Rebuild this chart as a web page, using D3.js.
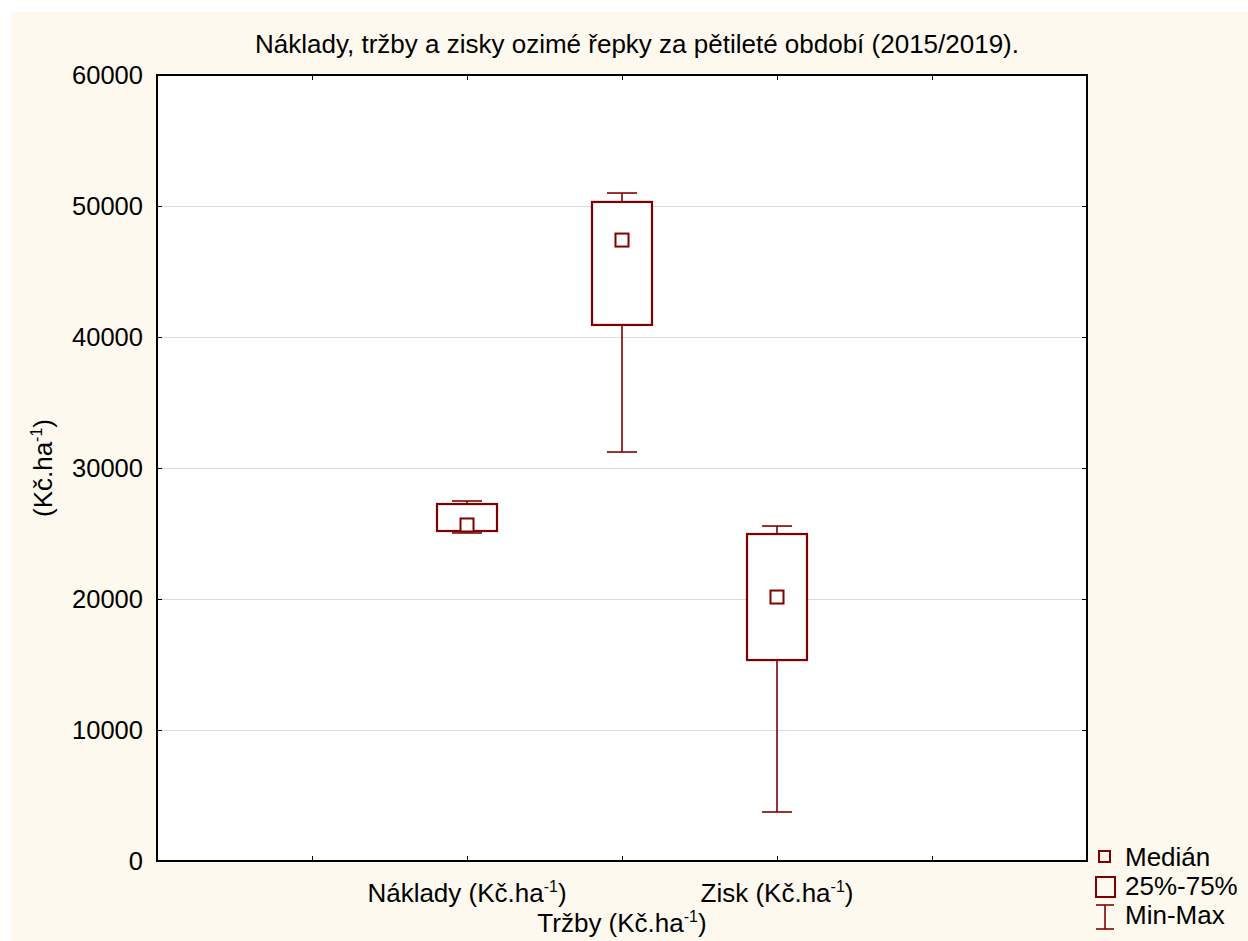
<!DOCTYPE html>
<html>
<head>
<meta charset="utf-8">
<script src="https://cdn.jsdelivr.net/npm/d3@7"></script>
<style>
  body { margin: 0; background: #ffffff; }
  svg { display: block; font-family: "Liberation Sans", Arial, sans-serif; }
</style>
</head>
<body>
<div id="chart"></div>
<script>
// data
const categories = ['Náklady', 'Tržby', 'Zisk'];
const minValues = [25040, 31220, 3740];
const q1Values = [25190, 40920, 15340];
const medianValues = [25650, 47400, 20150];
const q3Values = [27250, 50310, 24960];
const maxValues = [27480, 50990, 25570];
const yTicks = [0, 10000, 20000, 30000, 40000, 50000, 60000];

const config = {
  width: 1248,
  height: 941,
  margin: {top: 75, left: 157, right: 161, bottom: 80},
  color: '#800000',
  grid: '#dcdcdc',
  bg: '#fef9ee',
  title: 'Náklady, tržby a zisky ozimé řepky za pětileté období (2015/2019).'
};

const W = config.width, H = config.height, m = config.margin;
const x0 = m.left, x1 = W - m.right, y0 = m.top, y1 = H - m.bottom;

const svg = d3.select('#chart').append('svg')
  .attr('width', W)
  .attr('height', H);

svg.append('rect')
  .attr('x', 11).attr('y', 12)
  .attr('width', W - 11).attr('height', H - 12)
  .attr('fill', config.bg);

const x = d3.scaleLinear([0, 6], [x0, x1]);
const y = d3.scaleLinear([0, 60000], [y1, y0]);
const xPos = i => x(i + 2);

// plot area
svg.append('rect')
  .attr('x', x0).attr('y', y0)
  .attr('width', x1 - x0).attr('height', y1 - y0)
  .attr('fill', '#fff');

// grid
svg.append('g')
  .selectAll('line')
  .data(yTicks.slice(1, -1))
  .join('line')
  .attr('x1', x0).attr('x2', x1)
  .attr('y1', d => y(d) + 0.5).attr('y2', d => y(d) + 0.5)
  .attr('stroke', config.grid)
  .attr('stroke-width', 1);

// axes
const fs = '26px', sup = '16px';
svg.append('g')
  .attr('transform', `translate(${x0},0)`)
  .call(d3.axisLeft(y).tickValues(yTicks).tickSize(-5).tickPadding(14).tickFormat(d3.format('d')))
  .call(g => g.select('.domain').remove())
  .call(g => g.selectAll('text').attr('font-size', '25.5px').attr('fill', '#000').attr('font-family', 'Liberation Sans, Arial, sans-serif'))
  .call(g => g.selectAll('line').attr('stroke', '#000'));

svg.append('g')
  .attr('transform', `translate(${x1},0)`)
  .call(d3.axisRight(y).tickValues(yTicks).tickSize(-5).tickFormat(''))
  .call(g => g.select('.domain').remove())
  .call(g => g.selectAll('line').attr('stroke', '#000'));

svg.append('g')
  .attr('transform', `translate(0,${y1})`)
  .call(d3.axisBottom(x).tickValues([1, 2, 3, 4, 5]).tickSize(-5).tickFormat(''))
  .call(g => g.select('.domain').remove())
  .call(g => g.selectAll('line').attr('stroke', '#000'));

svg.append('g')
  .attr('transform', `translate(0,${y0})`)
  .call(d3.axisTop(x).tickValues([1, 2, 3, 4, 5]).tickSize(-5).tickFormat(''))
  .call(g => g.select('.domain').remove())
  .call(g => g.selectAll('line').attr('stroke', '#000'));

svg.append('rect')
  .attr('x', x0).attr('y', y0)
  .attr('width', x1 - x0).attr('height', y1 - y0)
  .attr('fill', 'none')
  .attr('stroke', '#000')
  .attr('stroke-width', 2);

// boxes
const boxW = 60, capW = 30, medS = 13;
const I = d3.range(categories.length);
const boxes = svg.append('g').attr('stroke', config.color).attr('fill', 'none');

boxes.selectAll('.whisker-lo')
  .data(I).join('line')
  .attr('x1', xPos).attr('x2', xPos)
  .attr('y1', i => y(q1Values[i])).attr('y2', i => y(minValues[i]))
  .attr('stroke-width', 1.6);
boxes.selectAll('.whisker-hi')
  .data(I).join('line')
  .attr('x1', xPos).attr('x2', xPos)
  .attr('y1', i => y(q3Values[i])).attr('y2', i => y(maxValues[i]))
  .attr('stroke-width', 1.6);
boxes.selectAll('.cap-lo')
  .data(I).join('line')
  .attr('x1', i => xPos(i) - capW / 2).attr('x2', i => xPos(i) + capW / 2)
  .attr('y1', i => y(minValues[i])).attr('y2', i => y(minValues[i]))
  .attr('stroke-width', 1.6);
boxes.selectAll('.cap-hi')
  .data(I).join('line')
  .attr('x1', i => xPos(i) - capW / 2).attr('x2', i => xPos(i) + capW / 2)
  .attr('y1', i => y(maxValues[i])).attr('y2', i => y(maxValues[i]))
  .attr('stroke-width', 1.6);
boxes.selectAll('rect.box')
  .data(I).join('rect')
  .attr('x', i => xPos(i) - boxW / 2)
  .attr('y', i => y(q3Values[i]))
  .attr('width', boxW)
  .attr('height', i => y(q1Values[i]) - y(q3Values[i]))
  .attr('fill', '#fff')
  .attr('stroke-width', 2.2);
boxes.selectAll('rect.med')
  .data(I).join('rect')
  .attr('x', i => xPos(i) - medS / 2)
  .attr('y', i => y(medianValues[i]) - medS / 2)
  .attr('width', medS).attr('height', medS)
  .attr('fill', '#fff')
  .attr('stroke-width', 2);

// x labels (staggered)
const xl = svg.append('g').attr('font-size', fs).attr('fill', '#000').attr('text-anchor', 'middle');
I.forEach(i => {
  const t = xl.append('text')
    .attr('x', xPos(i))
    .attr('y', i === 1 ? y1 + 71 : y1 + 41);
  t.append('tspan').text(categories[i] + ' (Kč.ha');
  t.append('tspan').attr('dy', -10).attr('font-size', sup).text('-1');
  t.append('tspan').attr('dy', 10).text(')');
});

// y label
const yl = svg.append('text')
  .attr('transform', `translate(52,${(y0 + y1) / 2}) rotate(-90)`)
  .attr('text-anchor', 'middle')
  .attr('font-size', fs)
  .attr('fill', '#000');
yl.append('tspan').text('(Kč.ha');
yl.append('tspan').attr('dy', -10).attr('font-size', sup).text('-1');
yl.append('tspan').attr('dy', 10).text(')');

// title
svg.append('text')
  .attr('x', 637)
  .attr('y', 53)
  .attr('text-anchor', 'middle')
  .attr('font-size', fs)
  .attr('fill', '#000')
  .text(config.title);

// legend
const lg = svg.append('g').attr('font-size', fs).attr('fill', '#000');
const lx = 1105;
lg.append('rect')
  .attr('x', lx - 6).attr('y', 851).attr('width', 11).attr('height', 11)
  .attr('fill', 'none').attr('stroke', config.color).attr('stroke-width', 2);
lg.append('text').attr('x', 1125).attr('y', 866).text('Medián');
lg.append('rect')
  .attr('x', lx - 9).attr('y', 877).attr('width', 19).attr('height', 20)
  .attr('fill', 'none').attr('stroke', config.color).attr('stroke-width', 2);
lg.append('text').attr('x', 1125).attr('y', 895).text('25%-75%');
const wg = lg.append('g').attr('stroke', config.color).attr('stroke-width', 1.6);
wg.append('line').attr('x1', lx).attr('x2', lx).attr('y1', 905).attr('y2', 929);
wg.append('line').attr('x1', lx - 9).attr('x2', lx + 9).attr('y1', 905).attr('y2', 905);
wg.append('line').attr('x1', lx - 9).attr('x2', lx + 9).attr('y1', 929).attr('y2', 929);
lg.append('text').attr('x', 1125).attr('y', 924).text('Min-Max');
</script>
</body>
</html>
